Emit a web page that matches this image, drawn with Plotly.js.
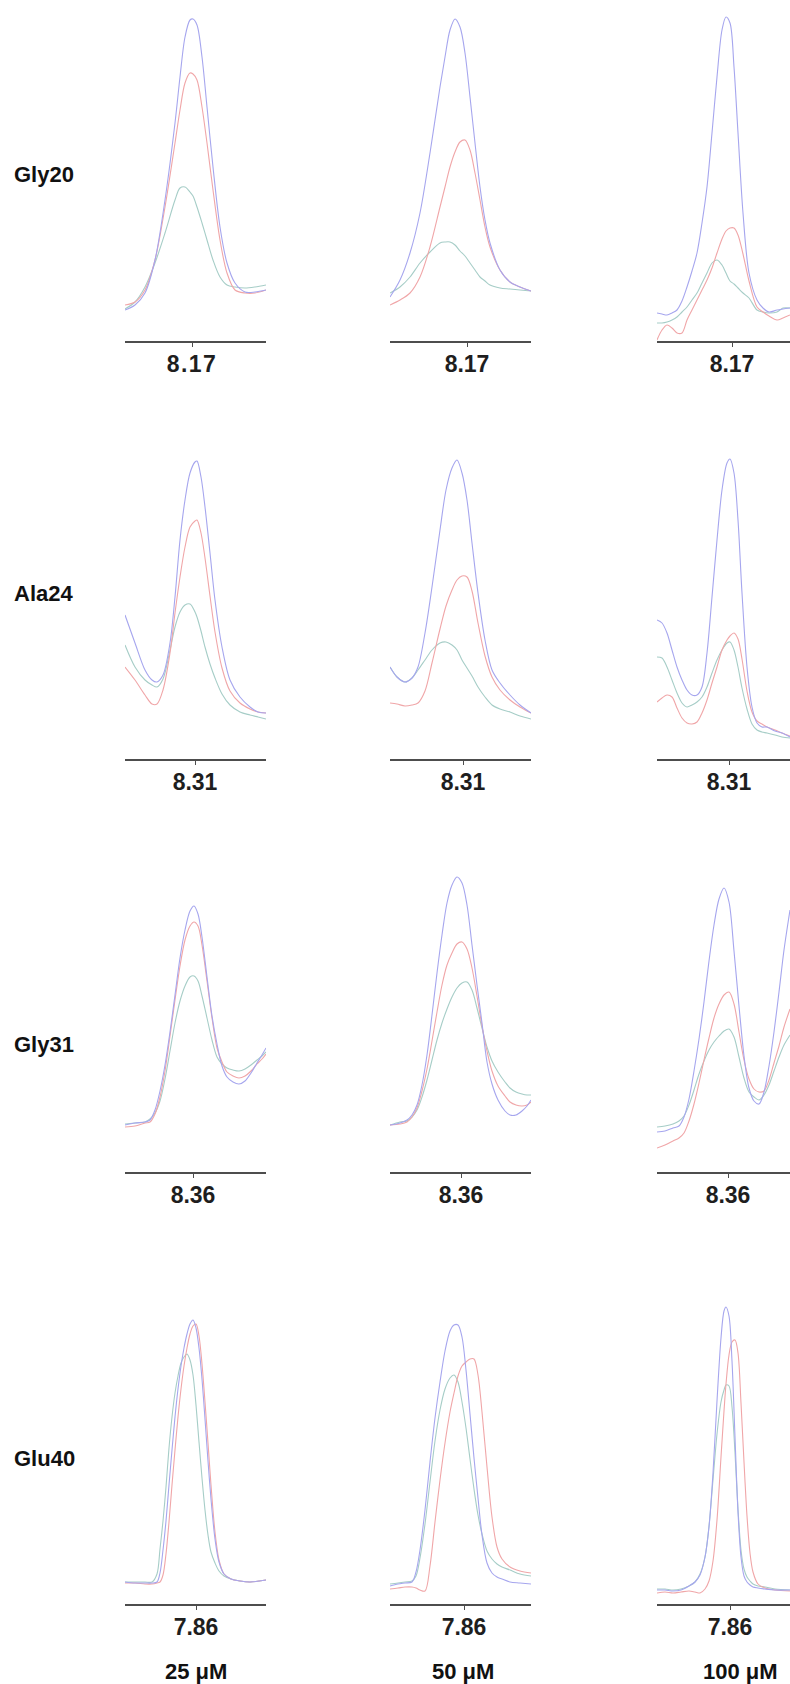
<!DOCTYPE html>
<html>
<head>
<meta charset="utf-8">
<script src="https://cdn.plot.ly/plotly-3.0.1.min.js"></script>
<style>
  html, body { margin: 0; padding: 0; background: #ffffff; }
  #chart { width: 790px; height: 1684px; }
  .xtick text { letter-spacing: 1.5px; }
</style>
</head>
<body>
<div id="chart"></div>
<script>
// ---------------- DATA ----------------
const residues = ['Gly20', 'Ala24', 'Gly31', 'Glu40'];
const concentrations = ['25 μM', '50 μM', '100 μM'];
const tickPpm = [8.17, 8.31, 8.36, 7.86];

// Gly20
const gly20_25_ppm  = [8.237,8.227,8.217,8.207,8.197,8.187,8.182,8.177,8.172,8.169,8.165,8.160,8.155,8.149,8.142,8.135,8.127,8.117,8.107,8.096];
const gly20_25_blue = [31,36,48,81,141,218,264,304,321,322,316,284,234,174,114,78,58,49,49,51];
const gly20_25_red  = [36,39,51,81,134,198,231,258,268,267,261,234,198,151,101,68,51,48,48,51];
const gly20_25_teal = [32,39,54,78,108,141,153,154,149,145,134,118,101,81,64,56,54,53,54,56];

const gly20_50_ppm  = [8.247,8.237,8.227,8.217,8.207,8.197,8.192,8.187,8.182,8.177,8.172,8.167,8.162,8.157,8.152,8.147,8.137,8.127,8.117,8.106];
const gly20_50_blue = [44,61,88,128,188,254,284,311,322,314,288,244,198,154,121,98,71,59,54,50];
const gly20_50_red  = [36,41,48,64,94,134,154,174,189,199,201,191,168,141,114,94,71,59,54,50];
const gly20_50_teal = [48,54,64,78,89,98,99,99,96,90,85,78,71,64,60,56,53,52,51,50];

const gly20_100_ppm  = [8.245,8.240,8.235,8.230,8.225,8.220,8.215,8.210,8.205,8.200,8.195,8.190,8.185,8.180,8.176,8.172,8.168,8.164,8.159,8.153,8.145,8.139,8.133,8.125,8.119,8.112];
const gly20_100_blue = [28,27,26,28,31,40,54,70,88,118,154,208,264,311,324,318,274,208,128,68,41,33,29,31,32,33];
const gly20_100_red  = [1,11,16,13,8,8,21,31,41,51,61,73,88,102,110,113,113,106,87,60,34,29,25,21,23,26];
const gly20_100_teal = [18,18,19,21,24,29,34,41,48,58,68,78,81,76,68,60,57,53,48,43,31,29,28,29,33,33];

// Ala24
const ala24_25_ppm  = [8.380,8.370,8.360,8.353,8.348,8.342,8.335,8.330,8.325,8.320,8.315,8.310,8.308,8.304,8.300,8.295,8.290,8.283,8.275,8.265,8.255,8.247,8.239];
const ala24_25_blue = [144,116,89,79,77,84,116,162,219,259,286,297,298,282,252,206,159,112,79,62,52,47,46];
const ala24_25_red  = [92,79,64,55,55,69,106,146,182,212,232,238,239,226,201,163,127,91,68,56,50,47,46];
const ala24_25_teal = [114,92,79,74,72,80,109,132,147,154,155,147,142,128,112,95,81,65,54,47,44,42,40];

const ala24_50_ppm  = [8.383,8.376,8.368,8.361,8.355,8.348,8.341,8.333,8.327,8.321,8.316,8.311,8.306,8.301,8.295,8.288,8.281,8.273,8.263,8.253,8.242];
const ala24_50_blue = [92,82,77,81,92,126,172,229,269,291,299,286,259,216,166,119,89,76,64,54,46];
const ala24_50_red  = [56,55,53,54,56,68,96,130,153,169,179,183,182,168,136,103,82,69,59,52,46];
const ala24_50_teal = [92,82,77,81,89,99,109,116,117,114,109,99,91,83,72,62,54,50,47,43,40];

const ala24_100_ppm  = [8.382,8.377,8.372,8.367,8.362,8.357,8.352,8.347,8.342,8.337,8.332,8.327,8.322,8.317,8.312,8.309,8.305,8.301,8.297,8.292,8.287,8.282,8.277,8.272,8.264,8.257,8.249];
const ala24_100_blue = [139,136,126,109,92,79,69,64,64,72,106,162,219,269,296,300,286,239,166,92,52,36,32,32,28,26,22];
const ala24_100_red  = [57,61,64,62,51,41,36,35,37,46,59,76,92,109,119,123,126,120,100,68,47,38,35,32,29,26,23];
const ala24_100_teal = [102,101,92,79,66,56,52,54,57,62,72,86,99,109,116,117,109,92,71,50,35,29,27,26,24,22,21];

// Gly31
const gly31_25_ppm  = [8.428,8.418,8.408,8.403,8.398,8.393,8.388,8.383,8.378,8.373,8.368,8.363,8.359,8.355,8.351,8.346,8.341,8.336,8.331,8.326,8.320,8.314,8.308,8.302,8.296,8.291,8.287];
const gly31_25_blue = [47,49,50,52,62,81,107,140,177,214,242,261,266,258,235,195,156,128,106,95,90,88,91,99,109,117,124];
const gly31_25_red  = [45,46,49,50,58,75,101,136,172,206,232,246,250,246,227,191,154,124,110,100,96,94,96,101,108,113,118];
const gly31_25_teal = [48,49,50,53,59,71,93,121,149,171,186,195,196,191,176,154,132,115,108,104,102,101,103,107,112,116,120];

const gly31_50_ppm  = [8.431,8.421,8.414,8.409,8.404,8.399,8.394,8.389,8.384,8.379,8.374,8.369,8.364,8.359,8.354,8.349,8.344,8.339,8.334,8.329,8.323,8.316,8.311,8.305,8.299,8.294,8.290];
const gly31_50_blue = [47,49,52,57,67,87,117,157,199,237,269,287,295,289,267,227,187,149,110,88,72,61,57,57,61,66,72];
const gly31_50_red  = [47,48,50,55,64,81,103,131,160,187,207,219,228,230,223,204,176,146,121,101,86,76,70,67,66,67,70];
const gly31_50_teal = [47,50,51,55,62,75,92,112,132,149,163,175,184,189,190,182,164,144,125,111,100,90,84,80,78,77,77];

const gly31_100_ppm  = [8.431,8.423,8.415,8.409,8.404,8.399,8.394,8.389,8.384,8.379,8.374,8.369,8.364,8.359,8.354,8.349,8.344,8.339,8.334,8.329,8.324,8.319,8.314,8.309,8.304,8.298];
const gly31_100_blue = [40,41,44,46,55,73,101,133,170,211,247,273,284,270,221,166,116,84,71,68,80,106,140,180,222,262];
const gly31_100_red  = [24,27,31,34,39,51,68,89,112,134,154,168,177,180,168,140,112,93,83,80,81,92,109,126,145,163];
const gly31_100_teal = [45,46,48,51,56,67,82,98,111,122,130,136,141,143,135,115,94,80,75,72,77,87,101,115,127,137];

// Glu40
const glu40_25_ppm  = [7.931,7.921,7.911,7.904,7.899,7.896,7.893,7.890,7.887,7.884,7.881,7.878,7.875,7.872,7.869,7.866,7.863,7.860,7.857,7.854,7.851,7.848,7.845,7.841,7.837,7.832,7.825,7.816,7.806,7.790];
const glu40_25_blue = [22,21,21,21,22,31,54,83,119,154,187,215,238,256,270,280,284,276,256,225,185,143,105,65,42,30,25,23,22,24];
const glu40_25_red  = [21,21,20,20,21,22,29,50,82,119,154,187,215,238,256,270,278,280,268,240,202,161,119,72,44,30,25,23,22,24];
const glu40_25_teal = [22,22,22,22,30,55,83,117,156,187,211,228,241,247,250,244,229,199,162,126,94,69,52,41,33,28,25,23,22,24];

const glu40_50_ppm  = [7.934,7.926,7.919,7.912,7.908,7.904,7.899,7.894,7.889,7.884,7.879,7.874,7.870,7.866,7.862,7.858,7.854,7.850,7.846,7.842,7.837,7.832,7.827,7.822,7.814,7.804,7.793];
const glu40_50_blue = [18,20,21,22,32,54,94,142,186,222,253,273,279,279,267,234,190,146,106,69,41,31,27,25,22,21,20];
const glu40_50_red  = [15,16,17,17,16,14,13,38,82,124,161,192,211,228,238,242,245,245,229,192,137,87,57,45,37,33,31];
const glu40_50_teal = [20,21,22,23,28,46,80,122,163,194,215,226,229,222,202,176,145,115,89,70,53,45,40,37,34,30,28];

const glu40_100_ppm  = [7.933,7.925,7.917,7.909,7.901,7.895,7.890,7.885,7.881,7.877,7.873,7.869,7.866,7.864,7.861,7.858,7.855,7.852,7.849,7.846,7.843,7.840,7.837,7.832,7.825,7.815,7.800];
const glu40_100_blue = [14,14,13,14,18,22,29,47,77,131,203,266,293,297,288,243,167,92,47,28,22,19,17,16,15,14,14];
const glu40_100_red  = [11,12,11,12,13,12,11,15,23,43,84,147,193,220,249,262,264,251,201,142,88,51,32,20,16,14,13];
const glu40_100_teal = [15,15,14,15,18,22,30,47,78,124,170,202,214,219,218,197,151,95,54,35,27,23,20,18,17,15,14];

// ---------------- PANEL TABLE (built from the arrays) ----------------
const panelData = [
  [[gly20_25_ppm, gly20_25_blue, gly20_25_red, gly20_25_teal],
   [gly20_50_ppm, gly20_50_blue, gly20_50_red, gly20_50_teal],
   [gly20_100_ppm, gly20_100_blue, gly20_100_red, gly20_100_teal]],
  [[ala24_25_ppm, ala24_25_blue, ala24_25_red, ala24_25_teal],
   [ala24_50_ppm, ala24_50_blue, ala24_50_red, ala24_50_teal],
   [ala24_100_ppm, ala24_100_blue, ala24_100_red, ala24_100_teal]],
  [[gly31_25_ppm, gly31_25_blue, gly31_25_red, gly31_25_teal],
   [gly31_50_ppm, gly31_50_blue, gly31_50_red, gly31_50_teal],
   [gly31_100_ppm, gly31_100_blue, gly31_100_red, gly31_100_teal]],
  [[glu40_25_ppm, glu40_25_blue, glu40_25_red, glu40_25_teal],
   [glu40_50_ppm, glu40_50_blue, glu40_50_red, glu40_50_teal],
   [glu40_100_ppm, glu40_100_blue, glu40_100_red, glu40_100_teal]]
];

// ---------------- GEOMETRY / STYLE ----------------
const W = 790, H = 1684;
const colPx = [[125, 266], [390, 531], [657, 790]];
const rowAxisPx = [341, 759, 1172, 1604];
const panelH = 370;
const rowLabelY = [175, 593, 1044, 1458];
const colLabelX = [196, 463, 740];
const colLabelY = 1671;
const lineColors = ['#a6a6ee', '#f0a6a8', '#a6cdc7'];
const FONT = 'Liberation Sans, Arial, Helvetica, sans-serif';

const traces = [];
const layout = {
  width: W, height: H,
  margin: {l: 0, r: 0, t: 0, b: 0},
  paper_bgcolor: '#ffffff',
  plot_bgcolor: 'rgba(0,0,0,0)',
  showlegend: false,
  annotations: []
};

let n = 0;
for (let r = 0; r < 4; r++) {
  for (let c = 0; c < 3; c++) {
    n++;
    const [ppm, blue, red, teal] = panelData[r][c];
    const xs = 'x' + (n > 1 ? n : '');
    const ys = 'y' + (n > 1 ? n : '');
    [teal, red, blue].forEach((vals, k) => {
      traces.push({
        type: 'scatter', mode: 'lines',
        x: ppm, y: vals,
        xaxis: xs, yaxis: ys,
        line: {color: lineColors[2 - k], width: 1.1, shape: 'spline', smoothing: 0.9},
        hoverinfo: 'skip'
      });
    });
    const y0 = rowAxisPx[r];
    const d = Math.min(panelH, y0);
    const yBot = (H - y0) / H;
    const yTop = (H - y0 + d) / H;
    layout['xaxis' + (n > 1 ? n : '')] = {
      domain: [colPx[c][0] / W, colPx[c][1] / W],
      range: [ppm[0], ppm[ppm.length - 1]],
      anchor: ys,
      showline: true, linecolor: '#4d4d4d', linewidth: 2,
      ticks: 'outside', ticklen: 4, tickwidth: 1, tickcolor: '#4d4d4d',
      tickvals: [tickPpm[r]],
      ticktext: [tickPpm[r].toFixed(2)],
      tickfont: {family: FONT, size: 23, weight: 'bold', color: '#1e1e1e'},
      ticklabelstandoff: -3,
      showgrid: false, zeroline: false, fixedrange: true
    };
    layout['yaxis' + (n > 1 ? n : '')] = {
      domain: [yBot, yTop],
      range: [0, d],
      anchor: xs,
      visible: false, fixedrange: true
    };
  }
}

residues.forEach((name, r) => {
  layout.annotations.push({
    text: name, xref: 'paper', yref: 'paper',
    x: 12 / W, y: 1 - rowLabelY[r] / H,
    xanchor: 'left', yanchor: 'middle', showarrow: false,
    font: {family: FONT, size: 22, weight: 'bold', color: '#111111'}
  });
});
concentrations.forEach((name, c) => {
  layout.annotations.push({
    text: name, xref: 'paper', yref: 'paper',
    x: colLabelX[c] / W, y: 1 - colLabelY / H,
    xanchor: 'center', yanchor: 'middle', showarrow: false,
    font: {family: FONT, size: 22, weight: 'bold', color: '#111111'}
  });
});

Plotly.newPlot('chart', traces, layout, {staticPlot: true, displayModeBar: false});
</script>
</body>
</html>
